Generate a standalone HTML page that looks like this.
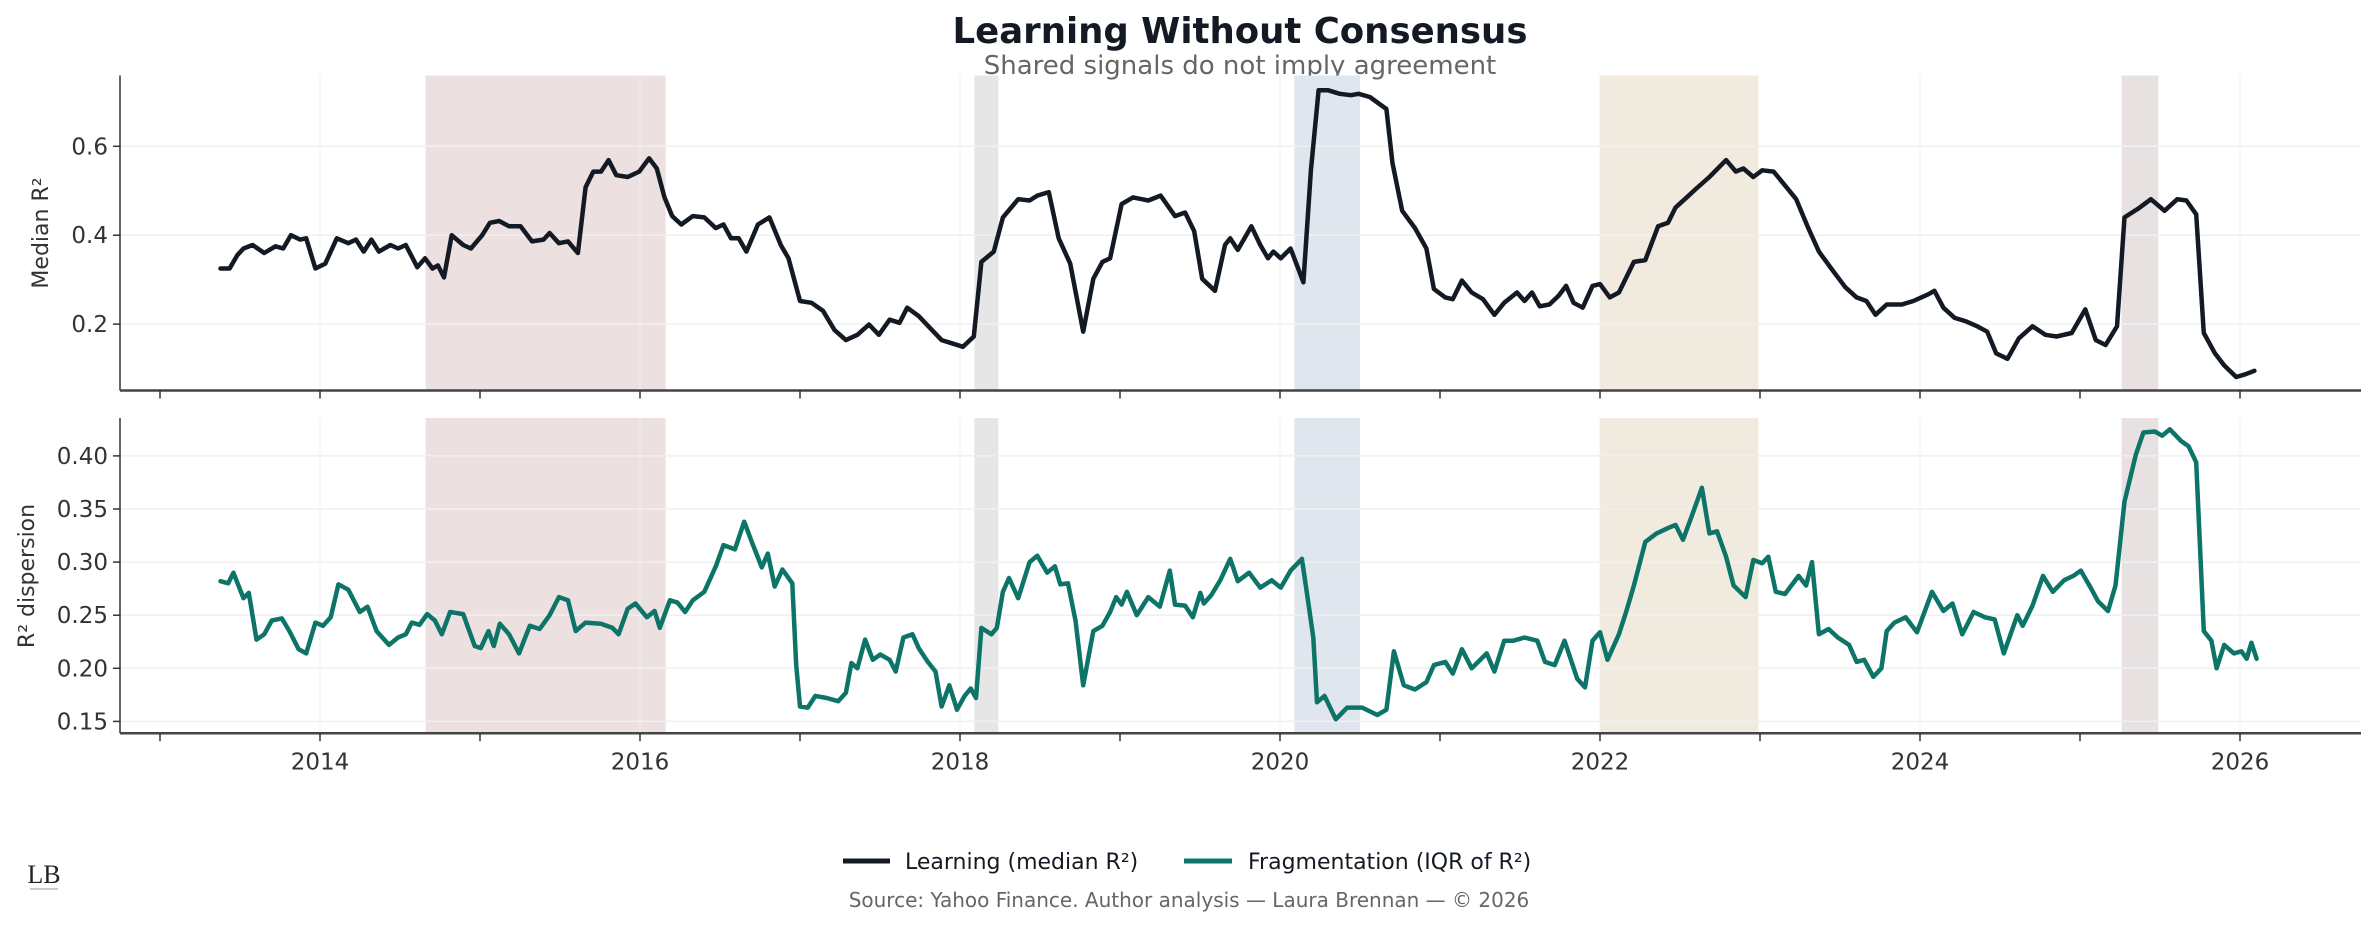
<!DOCTYPE html>
<html><head><meta charset="utf-8"><style>
html,body{margin:0;padding:0;background:#fff;}
svg{display:block;font-family:"DejaVu Sans","Liberation Sans",sans-serif;}
</style></head><body>
<svg id="chart" width="2376" height="928" viewBox="0 0 2376 928" xmlns="http://www.w3.org/2000/svg">
<text x="1240" y="43" text-anchor="middle" font-size="35.5" font-weight="bold" fill="#141a24">Learning Without Consensus</text>
<text x="1240" y="74" text-anchor="middle" font-size="26" fill="#666">Shared signals do not imply agreement</text>
<g id="top"></g>
<g id="bot"></g>
<text transform="translate(48,233) rotate(-90)" text-anchor="middle" font-size="22" fill="#333">Median R²</text>
<text transform="translate(34,576) rotate(-90)" text-anchor="middle" font-size="22" fill="#333">R² dispersion</text>
<g>
<line x1="843" y1="861" x2="890" y2="861" stroke="#141a24" stroke-width="5"/>
<text x="905" y="869" font-size="22" fill="#141a24">Learning (median R²)</text>
<line x1="1184" y1="861" x2="1232" y2="861" stroke="#0d7468" stroke-width="5"/>
<text x="1248" y="869" font-size="22" fill="#141a24">Fragmentation (IQR of R²)</text>
</g>
<text x="1189" y="907" text-anchor="middle" font-size="20" fill="#666">Source: Yahoo Finance. Author analysis — Laura Brennan — © 2026</text>
<g>
<text x="44" y="883" text-anchor="middle" font-family="Liberation Serif, serif" font-size="26" fill="#222">LB</text>
<line x1="30" y1="889" x2="58" y2="889" stroke="#999" stroke-width="1"/>
</g>
</svg>
<script>
const shadeStarts=[2014.66,2018.09,2020.09,2022.0,2025.26];
const shadeEnds=[2016.16,2018.24,2020.5,2022.99,2025.49];
const shadeColors=["#ece0e0","#e6e6e6","#dfe6ed","#f1ebdf","#e8e1e2"];
const xTickYears=[2013,2014,2015,2016,2017,2018,2019,2020,2021,2022,2023,2024,2025,2026];
const xLabelYears=[2014,2016,2018,2020,2022,2024,2026];
const topTicks=[0.2,0.4,0.6];
const topTickLabels=["0.2","0.4","0.6"];
const botTicks=[0.15,0.2,0.25,0.3,0.35,0.4];
const botTickLabels=["0.15","0.20","0.25","0.30","0.35","0.40"];
const learnYears=[2013.378,2013.435,2013.483,2013.522,2013.579,2013.651,2013.722,2013.770,2013.818,2013.876,2013.914,2013.971,2014.033,2014.105,2014.177,2014.225,2014.273,2014.321,2014.368,2014.440,2014.488,2014.536,2014.608,2014.656,2014.703,2014.737,2014.775,2014.823,2014.895,2014.943,2015.014,2015.062,2015.120,2015.182,2015.254,2015.325,2015.397,2015.435,2015.493,2015.550,2015.612,2015.660,2015.708,2015.756,2015.804,2015.852,2015.923,2015.995,2016.057,2016.105,2016.153,2016.201,2016.258,2016.330,2016.402,2016.474,2016.522,2016.569,2016.617,2016.665,2016.737,2016.809,2016.880,2016.928,2017.0,2017.072,2017.144,2017.215,2017.287,2017.359,2017.431,2017.493,2017.560,2017.622,2017.670,2017.742,2017.813,2017.885,2017.957,2018.019,2018.086,2018.134,2018.211,2018.268,2018.364,2018.435,2018.483,2018.555,2018.617,2018.689,2018.770,2018.833,2018.890,2018.938,2019.010,2019.081,2019.177,2019.254,2019.344,2019.407,2019.464,2019.514,2019.594,2019.656,2019.689,2019.736,2019.821,2019.877,2019.925,2019.958,2020.005,2020.066,2020.146,2020.193,2020.241,2020.302,2020.373,2020.443,2020.491,2020.561,2020.665,2020.703,2020.764,2020.844,2020.915,2020.962,2021.033,2021.080,2021.137,2021.198,2021.269,2021.340,2021.401,2021.481,2021.528,2021.575,2021.623,2021.684,2021.741,2021.788,2021.835,2021.892,2021.953,2022.0,2022.061,2022.118,2022.212,2022.283,2022.363,2022.425,2022.472,2022.542,2022.599,2022.684,2022.788,2022.849,2022.896,2022.958,2023.014,2023.085,2023.156,2023.226,2023.297,2023.368,2023.462,2023.533,2023.604,2023.665,2023.722,2023.792,2023.887,2023.958,2024.052,2024.090,2024.146,2024.217,2024.288,2024.358,2024.420,2024.476,2024.547,2024.618,2024.703,2024.783,2024.854,2024.948,2025.033,2025.099,2025.160,2025.231,2025.278,2025.373,2025.443,2025.528,2025.608,2025.665,2025.726,2025.774,2025.844,2025.901,2025.976,2026.033,2026.090];
const learnValues=[0.325,0.325,0.355,0.37,0.378,0.36,0.375,0.37,0.40,0.39,0.393,0.325,0.336,0.393,0.382,0.39,0.363,0.39,0.363,0.378,0.37,0.378,0.328,0.348,0.325,0.332,0.305,0.40,0.378,0.37,0.40,0.428,0.432,0.42,0.42,0.386,0.39,0.405,0.382,0.386,0.36,0.508,0.543,0.543,0.569,0.535,0.531,0.543,0.573,0.55,0.485,0.443,0.424,0.443,0.44,0.416,0.424,0.393,0.393,0.363,0.424,0.44,0.378,0.348,0.252,0.248,0.23,0.187,0.164,0.176,0.199,0.176,0.21,0.203,0.237,0.218,0.191,0.164,0.156,0.149,0.172,0.34,0.363,0.44,0.481,0.478,0.489,0.497,0.393,0.336,0.183,0.302,0.34,0.348,0.47,0.485,0.478,0.489,0.443,0.451,0.409,0.302,0.275,0.378,0.393,0.367,0.42,0.378,0.348,0.363,0.348,0.37,0.294,0.546,0.726,0.726,0.718,0.715,0.718,0.711,0.684,0.562,0.455,0.416,0.37,0.279,0.26,0.256,0.298,0.271,0.256,0.221,0.248,0.271,0.252,0.271,0.24,0.244,0.264,0.286,0.248,0.237,0.286,0.29,0.26,0.271,0.34,0.344,0.42,0.428,0.462,0.485,0.504,0.531,0.569,0.543,0.55,0.531,0.546,0.543,0.512,0.481,0.42,0.363,0.317,0.283,0.26,0.252,0.221,0.244,0.244,0.252,0.267,0.275,0.237,0.214,0.206,0.195,0.183,0.134,0.122,0.168,0.195,0.176,0.172,0.18,0.233,0.164,0.153,0.195,0.44,0.462,0.481,0.455,0.481,0.478,0.447,0.18,0.134,0.107,0.081,0.087,0.095];
const fragYears=[2013.378,2013.426,2013.459,2013.522,2013.555,2013.603,2013.651,2013.699,2013.761,2013.809,2013.866,2013.914,2013.971,2014.019,2014.067,2014.115,2014.177,2014.249,2014.297,2014.354,2014.431,2014.488,2014.536,2014.574,2014.622,2014.670,2014.718,2014.761,2014.813,2014.895,2014.967,2015.005,2015.053,2015.086,2015.124,2015.182,2015.244,2015.311,2015.373,2015.435,2015.493,2015.550,2015.598,2015.660,2015.756,2015.828,2015.866,2015.923,2015.971,2016.043,2016.091,2016.124,2016.187,2016.234,2016.282,2016.330,2016.402,2016.474,2016.522,2016.593,2016.651,2016.699,2016.761,2016.799,2016.842,2016.890,2016.952,2016.976,2017.0,2017.048,2017.096,2017.167,2017.239,2017.287,2017.321,2017.359,2017.407,2017.455,2017.502,2017.560,2017.598,2017.646,2017.703,2017.742,2017.799,2017.847,2017.885,2017.933,2017.981,2018.029,2018.067,2018.100,2018.134,2018.196,2018.230,2018.268,2018.306,2018.364,2018.435,2018.483,2018.545,2018.593,2018.627,2018.675,2018.722,2018.770,2018.833,2018.890,2018.938,2018.976,2019.010,2019.043,2019.105,2019.177,2019.249,2019.311,2019.344,2019.407,2019.455,2019.502,2019.524,2019.571,2019.627,2019.689,2019.736,2019.807,2019.877,2019.948,2020.005,2020.066,2020.137,2020.170,2020.208,2020.231,2020.278,2020.349,2020.420,2020.514,2020.608,2020.665,2020.712,2020.774,2020.844,2020.915,2020.962,2021.033,2021.080,2021.137,2021.198,2021.292,2021.340,2021.401,2021.458,2021.528,2021.608,2021.656,2021.717,2021.778,2021.858,2021.906,2021.953,2022.0,2022.047,2022.118,2022.165,2022.212,2022.283,2022.354,2022.425,2022.472,2022.519,2022.580,2022.637,2022.684,2022.731,2022.788,2022.835,2022.910,2022.958,2023.014,2023.052,2023.099,2023.156,2023.241,2023.288,2023.325,2023.368,2023.429,2023.486,2023.557,2023.604,2023.651,2023.708,2023.759,2023.792,2023.840,2023.910,2023.981,2024.075,2024.146,2024.203,2024.264,2024.335,2024.406,2024.467,2024.524,2024.608,2024.642,2024.703,2024.769,2024.830,2024.901,2024.958,2025.005,2025.066,2025.113,2025.175,2025.222,2025.278,2025.349,2025.396,2025.467,2025.514,2025.561,2025.632,2025.679,2025.726,2025.774,2025.821,2025.854,2025.901,2025.962,2026.009,2026.042,2026.071,2026.104];
const fragValues=[0.282,0.28,0.29,0.266,0.271,0.227,0.232,0.245,0.247,0.235,0.218,0.214,0.243,0.24,0.248,0.279,0.274,0.253,0.258,0.235,0.222,0.229,0.232,0.243,0.241,0.251,0.245,0.232,0.253,0.251,0.221,0.219,0.235,0.221,0.242,0.232,0.214,0.24,0.237,0.25,0.267,0.264,0.235,0.243,0.242,0.238,0.232,0.256,0.261,0.248,0.254,0.238,0.264,0.262,0.253,0.264,0.272,0.296,0.316,0.312,0.338,0.319,0.295,0.308,0.277,0.293,0.28,0.203,0.164,0.163,0.174,0.172,0.169,0.177,0.205,0.2,0.227,0.208,0.213,0.208,0.197,0.229,0.232,0.219,0.206,0.197,0.164,0.184,0.161,0.174,0.181,0.172,0.238,0.232,0.238,0.272,0.285,0.266,0.3,0.306,0.29,0.296,0.279,0.28,0.245,0.184,0.235,0.24,0.253,0.267,0.26,0.272,0.25,0.267,0.258,0.292,0.26,0.259,0.248,0.271,0.261,0.269,0.283,0.303,0.282,0.29,0.276,0.283,0.276,0.292,0.303,0.269,0.229,0.168,0.174,0.152,0.163,0.163,0.156,0.161,0.216,0.184,0.18,0.187,0.203,0.206,0.195,0.218,0.2,0.214,0.197,0.226,0.226,0.229,0.226,0.206,0.203,0.226,0.19,0.182,0.226,0.234,0.208,0.232,0.254,0.278,0.319,0.327,0.332,0.335,0.321,0.346,0.37,0.327,0.329,0.305,0.278,0.267,0.302,0.299,0.305,0.272,0.27,0.287,0.278,0.3,0.232,0.237,0.229,0.222,0.206,0.208,0.192,0.2,0.235,0.243,0.248,0.234,0.272,0.254,0.261,0.232,0.253,0.248,0.246,0.214,0.25,0.24,0.259,0.287,0.272,0.283,0.287,0.292,0.276,0.263,0.254,0.278,0.357,0.401,0.422,0.423,0.419,0.425,0.414,0.409,0.394,0.235,0.226,0.2,0.222,0.214,0.216,0.209,0.224,0.209];

const NS="http://www.w3.org/2000/svg";
const X0=120,X1=2361;
function xs(yr){return 320+(yr-2014)*160;}
function yTop(v){return 324.1-(v-0.2)*444.5;}
function yBot(v){return 721.4-(v-0.15)*1062;}
function mk(parent,tag,attrs){const e=document.createElementNS(NS,tag);for(const k in attrs)e.setAttribute(k,attrs[k]);parent.appendChild(e);return e;}

function panel(g,top,bottom,yf,ticks,labels,years,vals,color,name,showLabels){
  for(let i=0;i<shadeStarts.length;i++){
    const r=mk(g,'rect',{x:xs(shadeStarts[i]),y:top,width:xs(shadeEnds[i])-xs(shadeStarts[i]),height:bottom-top,fill:shadeColors[i]});
    
    
  }
  xLabelYears.forEach(yr=>{
    const l=mk(g,'line',{x1:xs(yr),x2:xs(yr),y1:top,y2:bottom,stroke:'#f0f0f0','stroke-width':1});
    
    
  });
  ticks.forEach((t,i)=>{
    const y=yf(t);
    const gl=mk(g,'line',{x1:X0,x2:X1,y1:y,y2:y,stroke:'#f0f0f0','stroke-width':1.5});
    
    
    mk(g,'line',{x1:X0-7,x2:X0,y1:y,y2:y,stroke:'#333','stroke-width':1.5});
    const tx=mk(g,'text',{x:X0-12,y:y+8,'text-anchor':'end','font-size':23,fill:'#333'});
    tx.textContent=labels[i];
    
    
  });
  let d='';
  years.forEach((yr,i)=>{d+=(i?'L':'M')+xs(yr).toFixed(1)+','+yf(vals[i]).toFixed(1);});
  const p=mk(g,'path',{d:d,fill:'none',stroke:color,'stroke-width':4.5,'stroke-linejoin':'round','stroke-linecap':'round'});
  
  
  mk(g,'line',{x1:X0,x2:X0,y1:top,y2:bottom,stroke:'#333','stroke-width':1.5});
  mk(g,'line',{x1:X0,x2:X1,y1:bottom,y2:bottom,stroke:'#444','stroke-width':2.5});
  xTickYears.forEach(yr=>{
    mk(g,'line',{x1:xs(yr),x2:xs(yr),y1:bottom,y2:bottom+8,stroke:'#333','stroke-width':1.5});
  });
  if(showLabels){
    xLabelYears.forEach(yr=>{
      const t=mk(g,'text',{x:xs(yr),y:bottom+36,'text-anchor':'middle','font-size':23,fill:'#333'});
      t.textContent=String(yr);
      
      
    });
  }
}
panel(document.getElementById('top'),75.5,390.5,yTop,topTicks,topTickLabels,learnYears,learnValues,'#141a24','learning-line',false);
panel(document.getElementById('bot'),418,733.3,yBot,botTicks,botTickLabels,fragYears,fragValues,'#0d7468','fragmentation-line',true);
</script>
</body></html>
